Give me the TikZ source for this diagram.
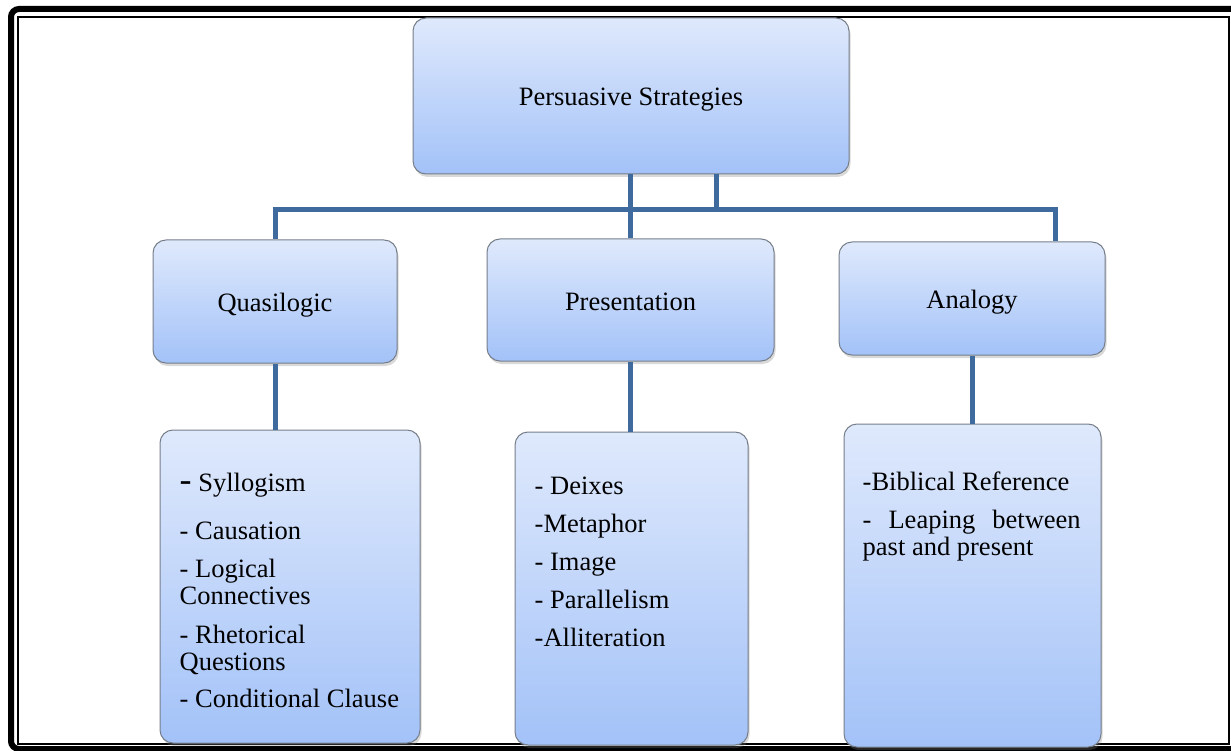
\documentclass[tikz,border=0pt]{standalone}
\usepackage{fontspec}
\setmainfont{Liberation Serif}
\usetikzlibrary{shadows}
\definecolor{boxtop}{RGB}{223,233,252}
\definecolor{boxbot}{RGB}{163,194,248}
\definecolor{boxline}{RGB}{118,126,138}
\definecolor{linkblue}{RGB}{62,106,158}

\begin{document}
\begin{tikzpicture}[x=1pt,y=-1pt,
    box/.style={draw=boxline,line width=1pt,rounded corners=13pt,
      top color=boxtop,bottom color=boxbot,inner sep=0pt,
      text height=26pt,text depth=6pt,
      drop shadow={shadow xshift=1.5pt,shadow yshift=-3pt,opacity=0.3},
      font=\fontsize{26.5}{30}\selectfont},
    link/.style={draw=linkblue,line width=5pt},
    items/.style={anchor=north west,align=left,inner sep=0pt,
      font=\fontsize{26.5}{27}\selectfont}]
  \useasboundingbox (0,0) rectangle (1231,751);
  \clip (0,0) rectangle (1231,751);
  % page frame
  \draw[line width=6pt,rounded corners=8pt] (11,9) rectangle (1245,749);
  \draw[line width=1.5pt] (18,17) rectangle (1229,744);
  % boxes
  \node[box,minimum width=436pt,minimum height=156pt] (top) at (631,96) {Persuasive Strategies};
  \node[box,minimum width=244pt,minimum height=123pt] (quasi) at (275,301.5) {Quasilogic};
  \node[box,minimum width=287pt,minimum height=122pt] (pres) at (630.5,300) {Presentation};
  \node[box,minimum width=266pt,minimum height=113pt] (ana) at (972,298.5) {Analogy};
  \node[box,minimum width=260pt,minimum height=313pt] (quasilist) at (290,586.5) {};
  \node[box,minimum width=233pt,minimum height=313pt] (preslist) at (631.5,588.5) {};
  \node[box,minimum width=257pt,minimum height=323pt] (analist) at (972.5,585.5) {};
  % lists
  \node[items] (quasitext) at ([shift={(20pt,-43pt)}]quasilist.north west)
    {{\fontsize{36}{27}\selectfont -} Syllogism\\[21pt]
     - Causation\\[11pt]
     - Logical\\ Connectives\\[12pt]
     - Rhetorical\\ Questions\\[10pt]
     - Conditional Clause};
  \node[items] (prestext) at ([shift={(20pt,-45.5pt)}]preslist.north west)
    {- Deixes\\[11pt]
     -Metaphor\\[11pt]
     - Image\\[11pt]
     - Parallelism\\[11pt]
     -Alliteration};
  \node[items] (anatext) at ([shift={(19pt,-48pt)}]analist.north west)
    {-Biblical Reference\\[11pt]
     \makebox[218pt][s]{-\ Leaping\ between}\\
     past and present};
  % connectors
  \coordinate (bus) at (716,210);
  \coordinate (busright) at (1055,210);
  \draw[link] (top.south -| pres) -- (pres.north);
  \draw[link] (top.south -| bus) -- (bus);
  \draw[link] (quasi.north) |- (busright) -- (busright |- ana.north);
  \draw[link] (quasi.south) -- (quasilist.north -| quasi.south);
  \draw[link] (pres.south) -- (preslist.north -| pres.south);
  \draw[link] (ana.south) -- (analist.north -| ana.south);
\end{tikzpicture}
\end{document}
